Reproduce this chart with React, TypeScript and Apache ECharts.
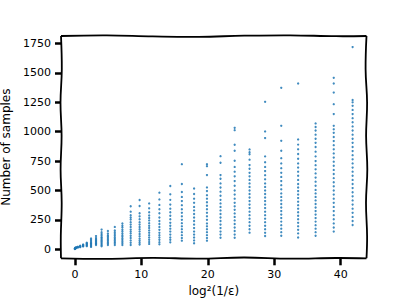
import React, { useEffect, useRef } from "react";
import * as echarts from "echarts";

// x positions of the sample columns (log²(1/ε))
const xValues = [
  0, 0.05, 0.2, 0.45, 0.8, 1.24, 1.79, 2.43, 3.18, 4.02, 4.97, 6.01, 7.15, 8.4, 9.74,
  11.18, 12.72, 14.36, 16.1, 17.94, 19.88, 21.92, 24.05, 26.29, 28.63, 31.06, 33.6,
  36.23, 38.96, 41.8,
];

// number of samples observed at each x column
const samplesPerX = [
  [2, 4, 6],
  [6, 9, 12],
  [10, 14, 18],
  [14, 18, 22],
  [18, 22, 26, 30],
  [24, 28, 32, 36, 40],
  [26, 32, 38, 44, 50, 55],
  [20, 28, 36, 44, 52, 60, 70, 80, 92],
  [36, 44, 52, 60, 68, 76, 86, 96, 112],
  [25, 35, 45, 55, 65, 75, 85, 95, 105, 118, 130, 145, 167],
  [36, 48, 60, 72, 84, 95, 108, 120, 135, 156],
  [36, 50, 62, 75, 88, 100, 115, 130, 145, 160, 190],
  [36, 50, 64, 78, 92, 106, 120, 135, 150, 165, 185, 200, 219],
  [36, 55, 75, 95, 115, 135, 150, 167, 190, 210, 230, 253, 270, 289, 320, 366],
  [40, 55, 72, 90, 110, 130, 150, 170, 190, 210, 230, 255, 280, 306, 368, 419],
  [45, 62, 80, 100, 120, 140, 160, 180, 200, 222, 245, 265, 287, 315, 348, 390],
  [42, 60, 80, 100, 120, 140, 165, 190, 215, 240, 270, 306, 340, 377, 424, 481],
  [59, 80, 100, 125, 150, 175, 200, 225, 255, 285, 315, 345, 380, 420, 467, 538],
  [73, 95, 120, 145, 170, 195, 222, 250, 280, 310, 340, 375, 410, 445, 487, 555, 724],
  [51, 75, 100, 125, 150, 180, 210, 240, 270, 300, 330, 360, 395, 430, 470, 517],
  [73, 95, 120, 145, 170, 195, 220, 250, 280, 310, 340, 370, 400, 430, 460, 495, 526, 631, 707, 724],
  [98, 125, 150, 180, 210, 240, 270, 300, 330, 360, 390, 420, 455, 490, 525, 560, 600, 631, 736, 792],
  [98, 125, 155, 185, 215, 245, 275, 305, 335, 365, 395, 430, 465, 500, 540, 580, 620, 660, 700, 753, 838, 889, 1013, 1033],
  [141, 170, 200, 230, 260, 290, 320, 350, 380, 410, 440, 470, 500, 530, 560, 590, 620, 650, 685, 716, 762, 808, 826, 849],
  [113, 140, 170, 200, 230, 260, 290, 320, 350, 380, 410, 440, 470, 500, 530, 560, 595, 630, 665, 700, 740, 790, 946, 1002, 1254],
  [115, 145, 175, 205, 235, 265, 295, 325, 355, 385, 415, 445, 475, 510, 545, 580, 615, 650, 690, 730, 775, 838, 922, 1050, 1373],
  [100, 135, 165, 195, 225, 255, 285, 315, 345, 375, 405, 435, 465, 495, 525, 555, 590, 625, 660, 695, 730, 770, 810, 850, 890, 934, 1410],
  [115, 145, 175, 205, 235, 265, 295, 325, 355, 385, 415, 445, 475, 505, 540, 575, 610, 645, 680, 715, 750, 790, 830, 870, 905, 940, 975, 1010, 1040, 1070],
  [150, 185, 220, 255, 290, 325, 360, 395, 430, 465, 500, 535, 570, 605, 640, 675, 710, 745, 780, 815, 850, 885, 920, 955, 990, 1020, 1050, 1150, 1234, 1333, 1410, 1458],
  [206, 240, 275, 310, 345, 380, 415, 450, 485, 520, 555, 590, 625, 660, 695, 730, 765, 800, 835, 870, 905, 940, 975, 1010, 1045, 1080, 1115, 1150, 1185, 1220, 1250, 1270, 1720],
];

const xTicks = [0, 10, 20, 30, 40];
const yTicks = [0, 250, 500, 750, 1000, 1250, 1500, 1750];

const FONT = "DejaVu Sans";

export default function App() {
  const ref = useRef<HTMLDivElement>(null);
  useEffect(() => {
    const chart = echarts.init(ref.current!, null, { renderer: "svg" });
    const data: number[][] = [];
    samplesPerX.forEach((col, i) => col.forEach((v) => data.push([xValues[i], v])));

    const L = 61, T = 36, R = 366.5, B = 258.3;
    const fr = [0, 0.15, 0.3, 0.45, 0.6, 0.75, 0.9, 1];
    const wTop = [0, -0.6, 0.4, 0.8, -0.3, -0.7, 0.2, 0];
    const wBot = [0, 0.5, -0.4, 0.3, -0.8, 0.4, -0.3, 0];
    const wLeft = [0, 0.8, -0.5, 0.6, -0.4, 0.7, -0.2, 0];
    const wRight = [0, -0.9, 0.6, -0.4, 0.8, -0.5, 0.6, 0];
    const side = (fn: (f: number, w: number) => number[], w: number[]) =>
      fr.map((f, i) => fn(f, w[i]));
    const lineStyle = { stroke: "#000", lineWidth: 1.8, fill: null as any };
    const frame = [
      side((f, w) => [L + (R - L) * f, T + w], wTop),
      side((f, w) => [L + (R - L) * f, B + w], wBot),
      side((f, w) => [L + w, T + (B - T) * f], wLeft),
      side((f, w) => [R + w, T + (B - T) * f], wRight),
    ].map((pts) => ({
      type: "polyline",
      shape: { points: pts, smooth: 0.4 },
      style: lineStyle,
      z: 10,
    }));

    const fmt = (v: number) => String(v);

    chart.setOption({
      animation: false,
      grid: {
        left: L,
        top: T,
        right: 407 - R,
        bottom: 305 - B,
        containLabel: false,
        outerBoundsMode: "none",
      },
      xAxis: {
        type: "value",
        min: -2.09,
        max: 43.89,
        axisLine: { show: false, onZero: false },
        splitLine: { show: false },
        axisTick: { show: true, customValues: xTicks, length: 7, lineStyle: { color: "#000", width: 2.5 } },
        axisLabel: { customValues: xTicks, formatter: fmt, margin: 11, color: "#000", fontFamily: FONT, fontSize: 11 },
        name: "log²(1/ε)",
        nameLocation: "middle",
        nameGap: 22,
        nameTextStyle: { color: "#000", fontFamily: FONT, fontSize: 12 },
      },
      yAxis: {
        type: "value",
        min: -77,
        max: 1814,
        axisLine: { show: false, onZero: false },
        splitLine: { show: false },
        axisTick: { show: true, customValues: yTicks, length: 6, lineStyle: { color: "#000", width: 2.5 } },
        axisLabel: { customValues: yTicks, formatter: fmt, margin: 10, color: "#000", fontFamily: FONT, fontSize: 11 },
        name: "Number of samples",
        nameLocation: "middle",
        nameGap: 43,
        nameTextStyle: { color: "#000", fontFamily: FONT, fontSize: 12 },
      },
      series: [
        {
          type: "scatter",
          data,
          symbol: "circle",
          symbolSize: 2.3,
          itemStyle: { color: "#1f77b4", opacity: 0.85 },
        },
      ],
      graphic: frame,
    });
    return () => chart.dispose();
  }, []);
  return (
    <div
      ref={ref}
      style={{ position: "absolute", left: 0, top: 0, width: 407, height: 305, background: "#fff" }}
    />
  );
}
